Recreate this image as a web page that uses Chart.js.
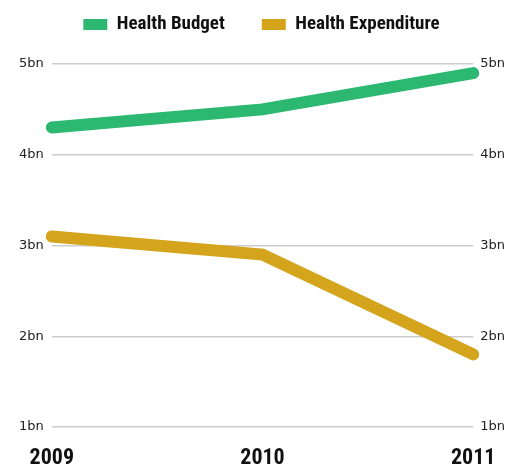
<!DOCTYPE html>
<html>
<head>
<meta charset="utf-8">
<script src="https://cdn.jsdelivr.net/npm/chart.js@4/dist/chart.umd.min.js"></script>
<style>
    html, body { margin: 0; padding: 0; background: #fff; }
    #wrap { width: 519px; height: 470px; }
</style>
</head>
<body>
<div id="wrap"><canvas id="chart"></canvas></div>
<script>
let years = ['2009', '2010', '2011'];
let healthBudget = [4.3, 4.5, 4.9];
let healthExpenditure = [3.1, 2.9, 1.8];
let yTicks = [1, 2, 3, 4, 5];

let condensed = '"Roboto Condensed", "Liberation Sans Narrow", "DejaVu Sans Condensed", sans-serif';

function tickLabel(value) {
    return yTicks.includes(value) ? value + 'bn' : '';
}

// legend boxes should be flat swatches, not stroked with the 12px line width
function legendLabels(chart) {
    let items = Chart.defaults.plugins.legend.labels.generateLabels(chart);
    items.forEach(item => {
        item.lineWidth = 0;
        item.strokeStyle = 'transparent';
    });
    return items;
}

// more room between the legend and the plot
let legendGap = {
    id: 'legendGap',
    beforeInit(chart) {
        let fit = chart.legend.fit;
        chart.legend.fit = function () {
            fit.bind(chart.legend)();
            this.height += 20;
        };
    }
};

let chart = new Chart(document.getElementById('chart'), {
    type: 'line',
    data: {
        labels: years,
        datasets: [{
            label: 'Health Budget',
            data: healthBudget,
            borderColor: '#2db872',
            backgroundColor: '#2db872',
            borderWidth: 12,
            borderCapStyle: 'round',
            pointRadius: 0,
            tension: 0,
            yAxisID: 'y'
        }, {
            label: 'Health Expenditure',
            data: healthExpenditure,
            borderColor: '#d4a51c',
            backgroundColor: '#d4a51c',
            borderWidth: 12,
            borderCapStyle: 'round',
            pointRadius: 0,
            tension: 0,
            yAxisID: 'y'
        }]
    },
    options: {
        responsive: true,
        maintainAspectRatio: false,
        animation: false,
        layout: { padding: { left: 11, right: 7, top: -22, bottom: -19 } },
        plugins: {
            tooltip: { enabled: false },
            legend: {
                position: 'top',
                labels: {
                    boxWidth: 24,
                    boxHeight: 11,
                    padding: 37,
                    color: '#111',
                    font: { family: condensed, size: 19, weight: 'bold' },
                    generateLabels: legendLabels
                }
            }
        },
        scales: {
            x: {
                offset: false,
                grid: { display: false, drawTicks: false },
                border: { display: false },
                ticks: {
                    color: '#111',
                    padding: 20,
                    maxRotation: 0,
                    font: { family: condensed, size: 22, weight: 'bold', lineHeight: 1 }
                }
            },
            y: {
                position: 'left',
                min: 1,
                max: 5,
                grid: { color: '#cccccc', lineWidth: 1.5, drawTicks: false },
                border: { display: false },
                ticks: {
                    stepSize: 1,
                    padding: 8,
                    color: '#222',
                    font: { family: '"DejaVu Sans", sans-serif', size: 13 },
                    callback: tickLabel
                }
            },
            y2: {
                position: 'right',
                min: 1,
                max: 5,
                grid: { display: false, drawTicks: false },
                border: { display: false },
                ticks: {
                    stepSize: 1,
                    padding: 7,
                    color: '#222',
                    font: { family: '"DejaVu Sans", sans-serif', size: 13 },
                    callback: tickLabel
                }
            }
        }
    },
    plugins: [legendGap]
});
</script>
</body>
</html>
